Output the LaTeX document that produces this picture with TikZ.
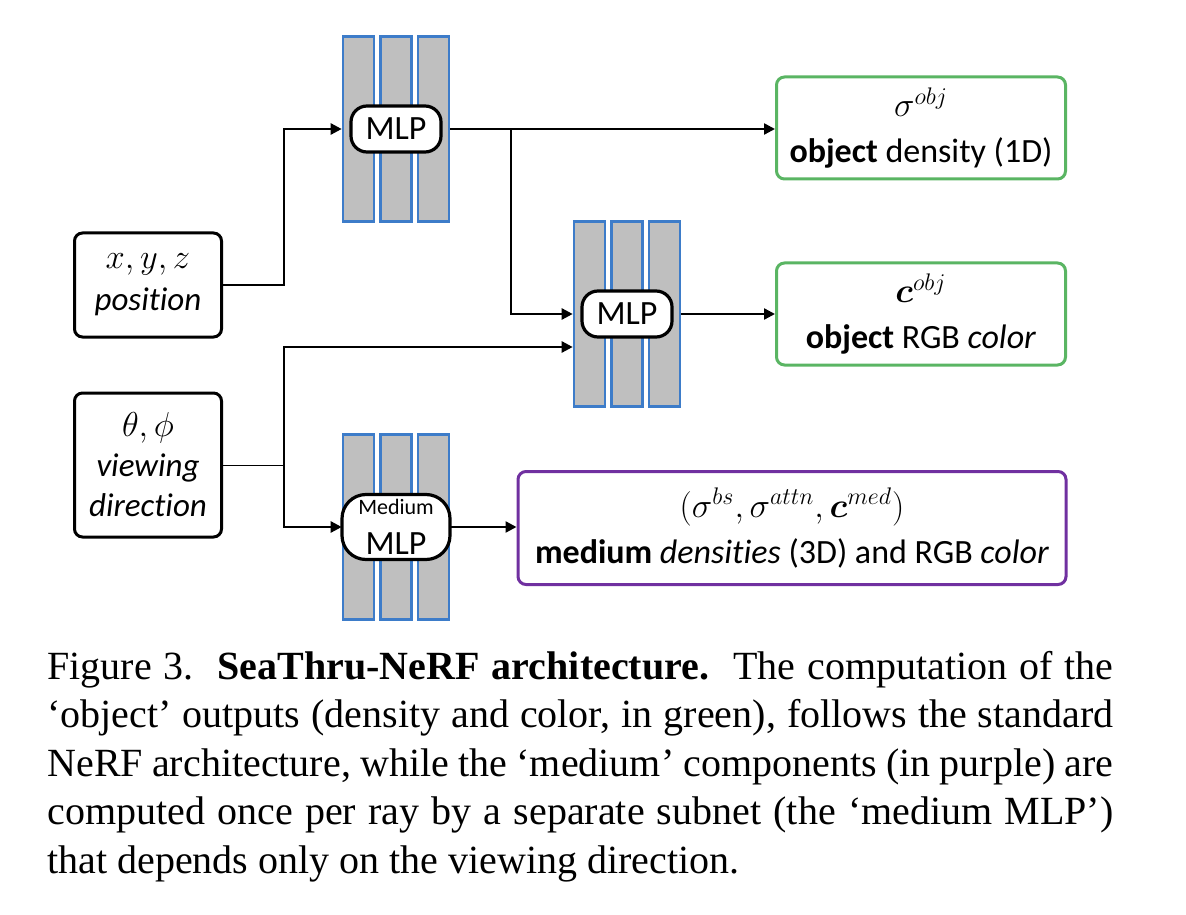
\documentclass[tikz,border=0pt]{standalone}
\usepackage{amsmath,bm}
\usepackage{fontspec}
\setmainfont{Liberation Serif}
\newfontfamily\calibri[Ligatures=NoCommon]{Carlito}
\usepackage{xcolor}
\definecolor{barblue}{HTML}{3D7CC9}
\definecolor{bargray}{HTML}{BFBFBF}
\definecolor{objgreen}{HTML}{5AB563}
\definecolor{medpurple}{HTML}{7030A0}
\usetikzlibrary{arrows.meta,positioning,calc}

\begin{document}
\begin{tikzpicture}[
  x=0.5pt,y=-0.5pt,
  every node/.style={align=center},
  bar/.style={draw=barblue,line width=1.3pt,fill=bargray,minimum width=15.5pt,minimum height=92.5pt,inner sep=0pt},
  lbl/.style={draw=black,line width=1.6pt,fill=white,rounded corners=8pt,minimum width=45pt,minimum height=23pt,inner sep=1pt,font=\calibri\fontsize{17}{20}\selectfont},
  inb/.style={draw=black,line width=1.5pt,rounded corners=4pt,minimum width=73.5pt,font=\calibri\fontsize{16.5}{20}\selectfont},
  ob/.style={draw=objgreen,line width=1.5pt,rounded corners=4pt,minimum width=144.5pt,minimum height=51pt,font=\calibri\fontsize{17}{23}\selectfont},
  ar/.style={-{Triangle[length=5.5pt,width=5.5pt]},line width=1.2pt}
]
\useasboundingbox (0,0) rectangle (1186,914);

% MLP blocks: three bars each
\foreach \nm/\cx/\cy in {mlpA/396/129, mlpB/627/314, mlpC/396/527}{
  \foreach \i in {1,2,3}
    \node[bar] (\nm-\i) at ({\cx+(\i-2)*37.5},\cy) {};
}
\node[lbl] (mA) at (396,129) {MLP};
\node[lbl] (mB) at (627,314) {MLP};
\node[lbl,minimum width=54pt,minimum height=32.5pt,rounded corners=12pt] (mC) at (396,527) {{\fontsize{11}{12}\selectfont Medium}\\MLP};

% inputs
\node[inb,minimum height=52pt] (pos) at (148,285) {$x,y,z$\\[1pt]\textit{position}};
\node[inb,minimum height=72pt] (view) at (148,465) {$\theta,\phi$\\\textit{viewing}\\\textit{direction}};

% outputs
\node[ob] (objd) at (921,128) {$\sigma^{obj}$\\\textbf{object} density (1D)};
\node[ob] (objc) at (921,314) {$\bm{c}^{obj}$\\\textbf{object} RGB \textit{color}};
\node[ob,draw=medpurple,minimum width=274pt,minimum height=56.5pt] (med) at (792,528) {$(\sigma^{bs},\sigma^{attn},\bm{c}^{med})$\\\textbf{medium} \textit{densities} (3D) and RGB \textit{color}};

% connectors
\draw[ar] (pos.east) -- ++(61,0) |- (mlpA-1.west);
\draw[ar] (mlpA-3.east) -- (mlpA-3.east -| objd.west);
\coordinate (sA) at (511,129);
\draw[ar] (sA) |- (mlpB-1.west);
\draw (view.east) -- ++(61,0) coordinate (sB);
\draw[ar] (sB) |- ([yshift=-16.5pt]mlpB-1.west);
\draw[ar] (sB) |- (mlpC-1.west);
\draw[ar] (mlpB-3.east) -- (mlpB-3.east -| objc.west);
\draw[ar] (mlpC-3.east) -- (mlpC-3.east -| med.west);

% caption
\node[anchor=north west,text width=533pt,align=justify,inner sep=0pt,font=\fontsize{20}{24.2}\selectfont] (cap) at (47,651) {Figure 3.\ \ \textbf{SeaThru-NeRF architecture.}\ \ The computation of the\linebreak
`object' outputs (density and color, in green), follows the standard\linebreak
NeRF architecture, while the `medium' components (in purple) are\linebreak
computed once per ray by a separate subnet (the `medium MLP')\linebreak
that depends only on the viewing direction.};
\end{tikzpicture}
\end{document}
